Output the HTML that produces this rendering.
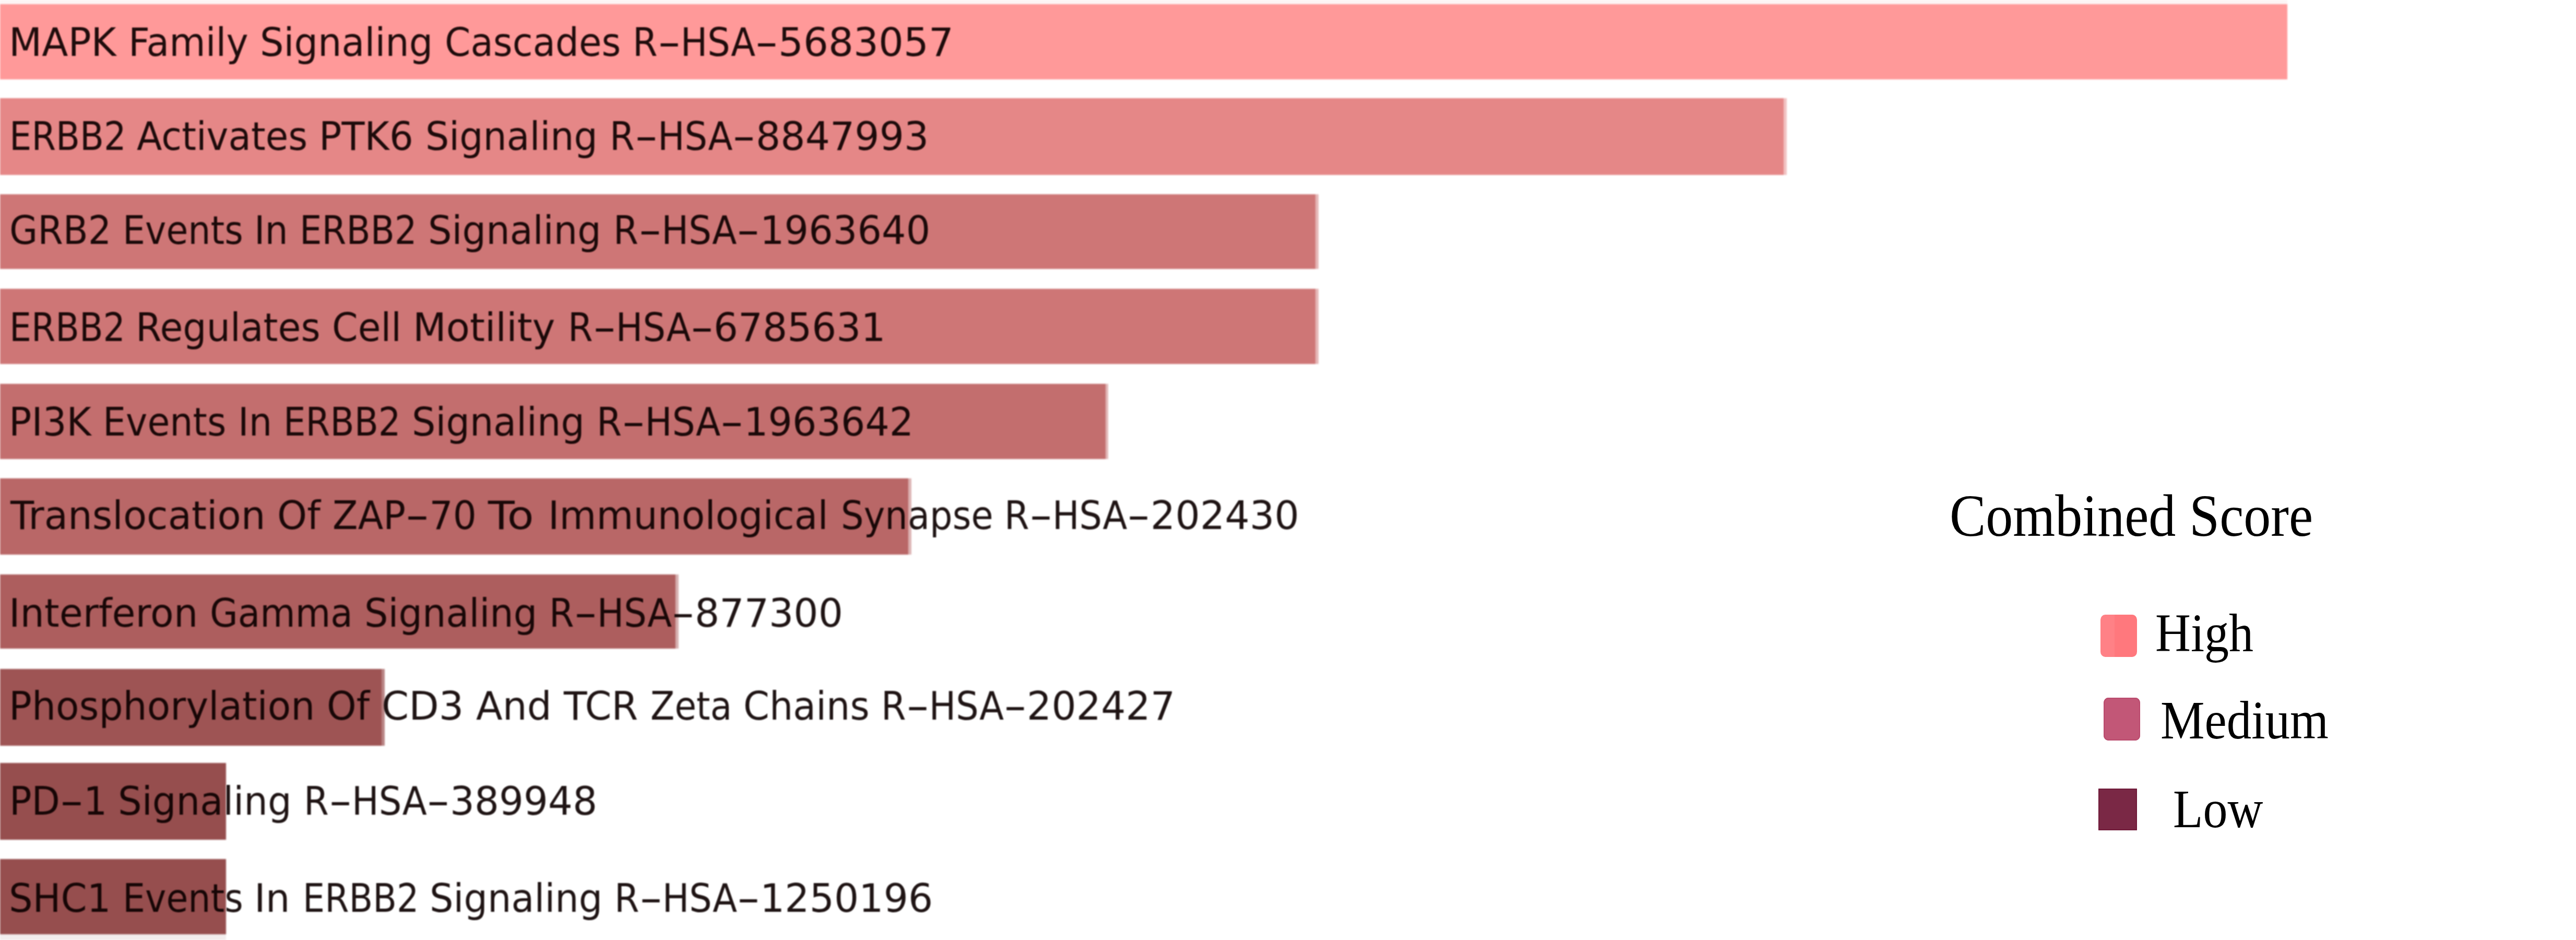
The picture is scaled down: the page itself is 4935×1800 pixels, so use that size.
<!DOCTYPE html>
<html><head><meta charset="utf-8"><title>Combined Score</title>
<style>
html,body{margin:0;padding:0;background:#fff;}
body{width:4935px;height:1800px;position:relative;overflow:hidden;}
.bar{position:absolute;left:0;}
.row{position:absolute;left:0;width:4000px;height:75px;white-space:pre;font-family:"DejaVu Sans","Liberation Sans",sans-serif;font-size:75px;line-height:75px;color:rgba(12,0,0,0.92);}
.w{position:absolute;top:0;left:0;white-space:pre;transform-origin:0 50%;}
.h{display:inline-block;transform:scaleX(1.83);margin:0 10.5px;}
.lg{position:absolute;white-space:pre;font-family:"Liberation Serif","DejaVu Serif",serif;color:#000;transform-origin:0 0;transform:scaleY(1.1);}
.sq{position:absolute;}
#bars{position:absolute;left:0;top:0;width:4935px;height:1800px;filter:blur(1.8px);}
#labels{position:absolute;left:0;top:0;width:4935px;height:1800px;filter:blur(1px);}
</style></head><body>

<div id="bars">
<div class="bar" style="top:0;height:8px;width:4382px;background:#fdf5f5"></div>
<div class="bar" style="top:1789px;height:11px;width:433px;background:#f3eded"></div>
<div class="bar" style="top:7.5px;height:144.0px;width:4382px;background:rgb(255,153,153)"></div>
<div class="bar" style="top:187.5px;height:147.5px;width:3422.5px;background:rgb(242,195,195)"></div>
<div class="bar" style="top:187.5px;height:147.5px;width:3417px;background:rgb(229,135,135)"></div>
<div class="bar" style="top:372.0px;height:142.5px;width:2525.5px;background:rgb(229,182,182)"></div>
<div class="bar" style="top:372.0px;height:142.5px;width:2519.5px;background:rgb(206,118,118)"></div>
<div class="bar" style="top:553.0px;height:143.5px;width:2525.5px;background:rgb(229,182,182)"></div>
<div class="bar" style="top:553.0px;height:143.5px;width:2519.5px;background:rgb(206,118,118)"></div>
<div class="bar" style="top:734.7px;height:144.7px;width:2122.5px;background:rgb(225,183,183)"></div>
<div class="bar" style="top:734.7px;height:144.7px;width:2117.5px;background:rgb(195,110,110)"></div>
<div class="bar" style="top:915.5px;height:146.3px;width:1746px;background:rgb(220,179,179)"></div>
<div class="bar" style="top:915.5px;height:146.3px;width:1740px;background:rgb(185,103,103)"></div>
<div class="bar" style="top:1099.7px;height:142.8px;width:1300px;background:rgb(214,175,175)"></div>
<div class="bar" style="top:1099.7px;height:142.8px;width:1294px;background:rgb(173,94,94)"></div>
<div class="bar" style="top:1280.5px;height:147.5px;width:737px;background:rgb(185,132,132)"></div>
<div class="bar" style="top:1280.5px;height:147.5px;width:730.5px;background:rgb(158,84,84)"></div>
<div class="bar" style="top:1461.4px;height:146.3px;width:433px;background:rgb(150,78,78)"></div>
<div class="bar" style="top:1644.5px;height:144.5px;width:433px;background:rgb(150,78,78)"></div>
</div>
<div id="labels">
<div class="row" style="top:43.6px">
<span class="w" style="left:17.3px;transform:scaleX(0.9775)">MAPK </span><span class="w" style="left:245.5px;transform:scaleX(0.9514)">Family </span><span class="w" style="left:497.8px;transform:scaleX(0.9568)">Signaling </span><span class="w" style="left:852.0px;transform:scaleX(0.9443)">Cascades </span><span class="w" style="left:1212.3px;transform:scaleX(0.9153)">R<span class="h">-</span>HSA<span class="h">-</span></span><span class="w" style="left:1490.9px;transform:scaleX(1.0061)">5683057</span>
</div>
<div class="row" style="top:223.9px">
<span class="w" style="left:17.9px;transform:scaleX(0.8945)">ERBB2 </span><span class="w" style="left:261.9px;transform:scaleX(0.9442)">Activates </span><span class="w" style="left:611.4px;transform:scaleX(0.9624)">PTK6 </span><span class="w" style="left:815.3px;transform:scaleX(0.9527)">Signaling </span><span class="w" style="left:1168.2px;transform:scaleX(0.9170)">R<span class="h">-</span>HSA<span class="h">-</span></span><span class="w" style="left:1447.5px;transform:scaleX(0.9921)">8847993</span>
</div>
<div class="row" style="top:403.6px">
<span class="w" style="left:18.1px;transform:scaleX(0.9327)">GRB2 </span><span class="w" style="left:234.8px;transform:scaleX(0.9090)">Events </span><span class="w" style="left:487.2px;transform:scaleX(0.9305)">In </span><span class="w" style="left:574.4px;transform:scaleX(0.8985)">ERBB2 </span><span class="w" style="left:820.3px;transform:scaleX(0.9581)">Signaling </span><span class="w" style="left:1175.2px;transform:scaleX(0.9207)">R<span class="h">-</span>HSA<span class="h">-</span></span><span class="w" style="left:1455.6px;transform:scaleX(0.9769)">1963640</span>
</div>
<div class="row" style="top:589.8px">
<span class="w" style="left:18.0px;transform:scaleX(0.8870)">ERBB2 </span><span class="w" style="left:259.5px;transform:scaleX(0.9524)">Regulates </span><span class="w" style="left:636.0px;transform:scaleX(0.9481)">Cell </span><span class="w" style="left:791.2px;transform:scaleX(0.9862)">Motility </span><span class="w" style="left:1087.8px;transform:scaleX(0.9163)">R<span class="h">-</span>HSA<span class="h">-</span></span><span class="w" style="left:1366.8px;transform:scaleX(0.9864)">6785631</span>
</div>
<div class="row" style="top:770.5px">
<span class="w" style="left:17.4px;transform:scaleX(0.9596)">PI3K </span><span class="w" style="left:197.2px;transform:scaleX(0.9306)">Events </span><span class="w" style="left:455.6px;transform:scaleX(0.9358)">In </span><span class="w" style="left:543.4px;transform:scaleX(0.8985)">ERBB2 </span><span class="w" style="left:789.3px;transform:scaleX(0.9554)">Signaling </span><span class="w" style="left:1143.2px;transform:scaleX(0.9236)">R<span class="h">-</span>HSA<span class="h">-</span></span><span class="w" style="left:1424.5px;transform:scaleX(0.9740)">1963642</span>
</div>
<div class="row" style="top:949.5px">
<span class="w" style="left:19.7px;transform:scaleX(0.9856)">Translocation </span><span class="w" style="left:530.9px;transform:scaleX(0.9683)">Of </span><span class="w" style="left:636.8px;transform:scaleX(0.9464)">ZAP<span class="h">-</span>70 </span><span class="w" style="left:935.2px;transform:scaleX(1.1098)">To </span><span class="w" style="left:1050.3px;transform:scaleX(0.9716)">Immunological </span><span class="w" style="left:1610.5px;transform:scaleX(0.9171)">Synapse </span><span class="w" style="left:1924.2px;transform:scaleX(0.9171)">R<span class="h">-</span>HSA<span class="h">-</span></span><span class="w" style="left:2203.5px;transform:scaleX(0.9951)">202430</span>
</div>
<div class="row" style="top:1136.5px">
<span class="w" style="left:17.3px;transform:scaleX(0.9760)">Interferon </span><span class="w" style="left:402.1px;transform:scaleX(0.9244)">Gamma </span><span class="w" style="left:697.8px;transform:scaleX(0.9567)">Signaling </span><span class="w" style="left:1052.3px;transform:scaleX(0.9151)">R<span class="h">-</span>HSA<span class="h">-</span></span><span class="w" style="left:1331.0px;transform:scaleX(0.9919)">877300</span>
</div>
<div class="row" style="top:1314.5px">
<span class="w" style="left:17.4px;transform:scaleX(0.9702)">Phosphorylation </span><span class="w" style="left:626.0px;transform:scaleX(0.9608)">Of </span><span class="w" style="left:730.8px;transform:scaleX(0.9968)">CD3 </span><span class="w" style="left:911.9px;transform:scaleX(0.9883)">And </span><span class="w" style="left:1080.2px;transform:scaleX(0.9750)">TCR </span><span class="w" style="left:1246.0px;transform:scaleX(0.9034)">Zeta </span><span class="w" style="left:1423.5px;transform:scaleX(0.9543)">Chains </span><span class="w" style="left:1688.3px;transform:scaleX(0.9155)">R<span class="h">-</span>HSA<span class="h">-</span></span><span class="w" style="left:1967.0px;transform:scaleX(0.9930)">202427</span>
</div>
<div class="row" style="top:1496.5px">
<span class="w" style="left:17.6px;transform:scaleX(0.9423)">PD<span class="h">-</span>1 </span><span class="w" style="left:226.3px;transform:scaleX(0.9608)">Signaling </span><span class="w" style="left:582.2px;transform:scaleX(0.9181)">R<span class="h">-</span>HSA<span class="h">-</span></span><span class="w" style="left:861.9px;transform:scaleX(0.9856)">389948</span>
</div>
<div class="row" style="top:1683.0px">
<span class="w" style="left:17.3px;transform:scaleX(0.9572)">SHC1 </span><span class="w" style="left:234.8px;transform:scaleX(0.9090)">Events </span><span class="w" style="left:486.8px;transform:scaleX(0.9840)">In </span><span class="w" style="left:579.5px;transform:scaleX(0.8893)">ERBB2 </span><span class="w" style="left:822.8px;transform:scaleX(0.9567)">Signaling </span><span class="w" style="left:1177.3px;transform:scaleX(0.9154)">R<span class="h">-</span>HSA<span class="h">-</span></span><span class="w" style="left:1455.8px;transform:scaleX(0.9920)">1250196</span>
</div>
</div>
<div class="lg" style="left:3735px;top:930px;font-size:104px;line-height:104px">Combined Score</div>
<div class="sq" style="left:4024px;top:1177px;width:70px;height:81px;border-radius:9px/10px;background:linear-gradient(90deg,#ff8186 0,#ff8186 38%,#ff787d 38%,#ff787d 100%)"></div>
<div class="lg" style="left:4129px;top:1160px;font-size:94px;line-height:94px">High</div>
<div class="sq" style="left:4030px;top:1336px;width:70px;height:82px;border-radius:9px/10px;background:#c25777;box-shadow:inset 0 0 0 2px #ba4a6d"></div>
<div class="lg" style="left:4139px;top:1327px;font-size:95px;line-height:94px">Medium</div>
<div class="sq" style="left:4020px;top:1510px;width:74px;height:80px;border-radius:1px;background:#7a2845;box-shadow:inset 0 0 0 2px #701a3a"></div>
<div class="lg" style="left:4163px;top:1497px;font-size:94px;line-height:94px">Low</div>
</body></html>
